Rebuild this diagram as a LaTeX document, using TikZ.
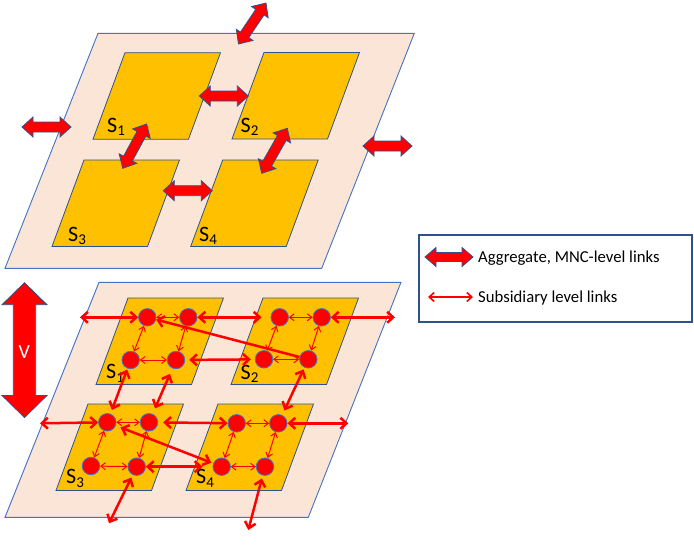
\documentclass[tikz,border=0pt]{standalone}
\usepackage{fontspec}
\setmainfont{Carlito}
\usetikzlibrary{calc,arrows.meta}
\definecolor{panelfill}{HTML}{FBE5D6}
\definecolor{panelline}{HTML}{4472C4}
\definecolor{gold}{HTML}{FFC000}
\definecolor{sqline}{HTML}{2F528F}
\definecolor{arrred}{HTML}{FF0000}
\tikzset{
 panel/.style={fill=panelfill, draw=panelline, line width=0.9pt},
 subsq/.style={fill=gold, draw=sqline, line width=0.8pt},
 unit/.style={circle, fill=arrred, draw=panelline, line width=0.8pt, minimum size=17.5pt, inner sep=0pt},
 thicklink/.style={draw=arrred, line width=2.5pt, >={Straight Barb[length=6pt,width=11pt]}},
 thinlink/.style={draw=arrred, line width=1pt, >={Straight Barb[length=4.5pt,width=7pt]}, <->},
 legendlink/.style={draw=arrred, line width=1.6pt, >={Straight Barb[length=5pt,width=9pt]}, <->},
 bigarrowstyle/.style={fill=arrred, draw=sqline, line width=0.8pt, line join=miter},
 slabel/.style={inner sep=0pt, anchor=base west, font=\fontsize{22}{22}\selectfont},
 legtext/.style={inner sep=0pt, anchor=base west, font=\fontsize{16.7}{16.7}\selectfont},
}
\newcommand\sublab[1]{S\raisebox{-3.5pt}{\fontsize{15}{15}\selectfont #1}}
\newcommand\sq[2]{\draw[subsq] (#1,#2) -- ++(95.5,0) -- ++(-32,86.5) -- ++(-95.5,0) -- cycle;}
% block double arrow: from, to, head length, head half width, shaft half width
\newcommand\bigarr[5]{%
 \path[bigarrowstyle] let \p1=($(#2)-(#1)$), \n1={atan2(\y1,\x1)}, \n2={veclen(\x1,\y1)} in
 (#1)
 -- ($(#1)+({\n1}:{#3})+({\n1+90}:{#4})$)
 -- ($(#1)+({\n1}:{#3})+({\n1+90}:{#5})$)
 -- ($(#1)+({\n1}:{\n2-#3})+({\n1+90}:{#5})$)
 -- ($(#1)+({\n1}:{\n2-#3})+({\n1+90}:{#4})$)
 -- (#2)
 -- ($(#1)+({\n1}:{\n2-#3})+({\n1-90}:{#4})$)
 -- ($(#1)+({\n1}:{\n2-#3})+({\n1-90}:{#5})$)
 -- ($(#1)+({\n1}:{#3})+({\n1-90}:{#5})$)
 -- ($(#1)+({\n1}:{#3})+({\n1-90}:{#4})$)
 -- cycle;}
\begin{document}
\begin{tikzpicture}[x=1pt,y=-1pt]
\useasboundingbox (0,0) rectangle (694,546);
% ---------- top panel ----------
\draw[panel] (98,33.3) -- (414.3,33.3) -- (321.7,268.3) -- (5,268.3) -- cycle;
\sq{125}{52.7}
\sq{264}{52.5}
\sq{84}{160}
\sq{222.7}{160}
\node[slabel] (ts1) at (107,132) {\sublab{1}};
\node[slabel] (ts2) at (240.5,132) {\sublab{2}};
\node[slabel] (ts3) at (68,241) {\sublab{3}};
\node[slabel] (ts4) at (199,241) {\sublab{4}};
\coordinate (ta1) at (238.5,44);   \coordinate (ta2) at (266,3);
\coordinate (tl1) at (22,127);     \coordinate (tl2) at (71,127);
\coordinate (tr1) at (363,146);    \coordinate (tr2) at (412,146);
\coordinate (t12a) at (199.3,96);  \coordinate (t12b) at (248.3,96);
\coordinate (t13a) at (146.7,124); \coordinate (t13b) at (122.7,168.3);
\coordinate (t24a) at (287.3,128.3); \coordinate (t24b) at (261.7,173.3);
\coordinate (t34a) at (163.3,190.7); \coordinate (t34b) at (212.3,190.7);
\bigarr{ta1}{ta2}{11pt}{10pt}{5pt}
\bigarr{tl1}{tl2}{11pt}{10pt}{5pt}
\bigarr{tr1}{tr2}{11pt}{10pt}{5pt}
\bigarr{t12a}{t12b}{11pt}{10pt}{5pt}
\bigarr{t13a}{t13b}{11pt}{10pt}{5pt}
\bigarr{t24a}{t24b}{11pt}{10pt}{5pt}
\bigarr{t34a}{t34b}{11pt}{10pt}{5pt}
% ---------- V arrow ----------
\coordinate (vtop) at (24.5,282.7); \coordinate (vbot) at (24.5,417.5);
\bigarr{vtop}{vbot}{22pt}{22.5pt}{11.2pt}
\node[text=white, inner sep=0pt, font=\fontsize{20}{20}\selectfont] (vlab) at (24.3,351.7) {V};
% ---------- bottom panel ----------
\draw[panel] (99,282.3) -- (401,282.3) -- (308.3,517.3) -- (5,517.3) -- cycle;
\sq{128}{298}
\sq{263}{298}
\sq{88}{404}
\sq{218}{404}
\node[slabel] (bs1) at (106,378.5) {\sublab{1}};
\node[slabel] (bs2) at (240.5,379) {\sublab{2}};
\node[slabel] (bs3) at (66,483.5) {\sublab{3}};
\node[slabel] (bs4) at (196,483.5) {\sublab{4}};
% units
\node[unit] (s1a) at (147.3,317.3) {};
\node[unit] (s1b) at (188.3,317.3) {};
\node[unit] (s1c) at (130.7,360) {};
\node[unit] (s1d) at (176,360) {};
\node[unit] (s2a) at (279.7,317.3) {};
\node[unit] (s2b) at (321.7,317.3) {};
\node[unit] (s2c) at (264,359.3) {};
\node[unit] (s2d) at (308.3,359.3) {};
\node[unit] (s3a) at (107.3,422.3) {};
\node[unit] (s3b) at (149,422.3) {};
\node[unit] (s3c) at (91,466) {};
\node[unit] (s3d) at (136.7,466.7) {};
\node[unit] (s4a) at (236.7,423.3) {};
\node[unit] (s4b) at (278.3,423.3) {};
\node[unit] (s4c) at (221.7,466.7) {};
\node[unit] (s4d) at (265,466.7) {};
% thin links
\foreach \s in {s1,s2,s3,s4}{
 \draw[thinlink] (\s a) -- (\s b);
 \draw[thinlink] (\s c) -- (\s d);
 \draw[thinlink] (\s a) -- (\s c);
 \draw[thinlink] (\s b) -- (\s d);
}
% free ends
\coordinate (l1) at (80,317.3);
\coordinate (r1) at (395,317.3);
\coordinate (l2) at (40,423.3);
\coordinate (r2) at (348.3,423.3);
\coordinate (b1) at (109,523.3);
\coordinate (b2) at (248.3,530);
% thick links
\draw[thicklink,<->] (l1) -- (s1a);
\draw[thicklink,<->,shorten >=9pt] (s1b) -- (s2a);
\draw[thicklink,<->] (s2b) -- (r1);
\draw[thicklink,->] (s2d) -- (s1a);
\draw[thicklink,<->,shorten <=4pt,shorten >=4pt] (s1d) -- (s2c);
\draw[thicklink,<->,shorten <=1pt,shorten >=4pt] (s1c) -- (s3a);
\draw[thicklink,<->,shorten <=6pt,shorten >=6pt] (s1d) -- (s3b);
\draw[thicklink,<->,shorten <=2pt,shorten >=5pt] (s2d) -- (s4b);
\draw[thicklink,<->] (l2) -- (s3a);
\draw[thicklink,<->,shorten <=5pt] (s3b) -- (s4a);
\draw[thicklink,<->] (s4b) -- (r2);
\draw[thicklink,<->,shorten <=2pt,shorten >=5pt] (s4c) -- (s3a);
\draw[thicklink,<->,shorten >=10pt] (s3d) -- (s4c);
\draw[thicklink,<->,shorten <=3pt] (s3d) -- (b1);
\draw[thicklink,<->,shorten <=3pt] (s4d) -- (b2);
% ---------- legend ----------
\draw[draw=sqline, line width=1.2pt, fill=white] (419,235) rectangle (692,322);
\coordinate (lg1a) at (425,257); \coordinate (lg1b) at (473,257);
\bigarr{lg1a}{lg1b}{11pt}{9.5pt}{4.5pt}
\node[legtext] (lgt1) at (478,262.5) {Aggregate, MNC-level links};
\coordinate (lg2a) at (428,297); \coordinate (lg2b) at (473,297);
\draw[legendlink] (lg2a) -- (lg2b);
\node[legtext] (lgt2) at (478,302) {Subsidiary level links};
\end{tikzpicture}
\end{document}
